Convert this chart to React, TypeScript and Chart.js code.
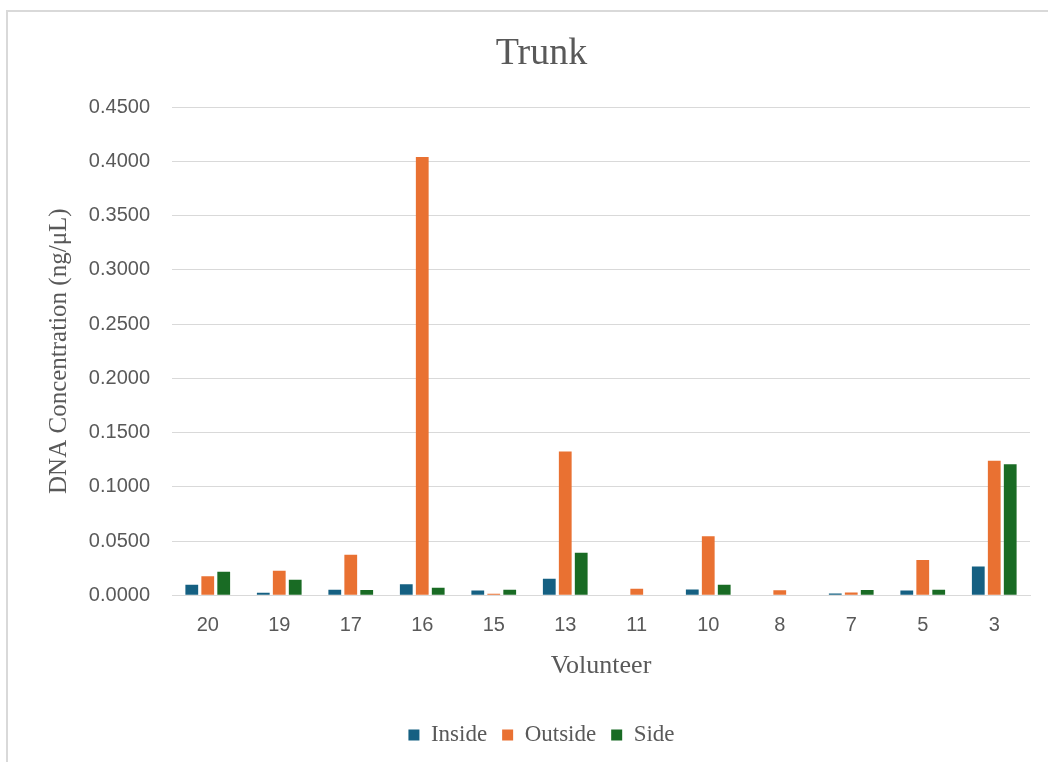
import React, { useEffect, useRef } from "react";
import { Chart, registerables } from "chart.js";

Chart.register(...registerables);

// Volunteers in the order they appear along the x axis
const volunteers = ["20", "19", "17", "16", "15", "13", "11", "10", "8", "7", "5", "3"];

// DNA concentration (ng/µL) per sampling location on the trunk
const insideValues = [0.0097, 0.0023, 0.0051, 0.0102, 0.0045, 0.0152, 0, 0.0053, 0, 0.0017, 0.0045, 0.0265];
const outsideValues = [0.0176, 0.0226, 0.0373, 0.404, 0.0015, 0.1325, 0.006, 0.0544, 0.0046, 0.0025, 0.0325, 0.1239];
const sideValues = [0.0217, 0.0143, 0.0048, 0.0069, 0.0052, 0.0392, 0, 0.0097, 0, 0.0049, 0.0051, 0.1208];

const seriesNames = ["Inside", "Outside", "Side"];
const seriesColors = ["#156082", "#E97132", "#196B24"];

const TEXT = "#595959";
const GRID = "#d9d9d9";
const SERIF = "'Liberation Serif', 'Times New Roman', serif";
const SANS = "'Liberation Sans', Arial, sans-serif";

export default function App() {
  const canvasRef = useRef<HTMLCanvasElement | null>(null);

  useEffect(() => {
    const canvas = canvasRef.current;
    if (!canvas) return;
    const values = [insideValues, outsideValues, sideValues];
    const chart = new Chart(canvas, {
      type: "bar",
      data: {
        labels: volunteers,
        datasets: seriesNames.map((name, i) => ({
          label: name,
          data: values[i],
          backgroundColor: seriesColors[i],
          borderWidth: 0,
          categoryPercentage: 0.67,
          barPercentage: 0.8,
        })),
      },
      options: {
        responsive: false,
        animation: false,
        devicePixelRatio: 1,
        layout: { padding: { top: 12, left: 53, right: 18, bottom: 5.5 } },
        plugins: {
          title: {
            display: true,
            text: "Trunk",
            color: TEXT,
            font: { family: SERIF, size: 38, weight: "normal" },
            padding: { top: 19.2, bottom: 30.2 },
          },
          legend: {
            position: "bottom",
            labels: {
              color: TEXT,
              font: { family: SERIF, size: 23 },
              boxWidth: 11,
              boxHeight: 11,
              padding: 15,
            },
          },
          tooltip: { enabled: false },
        },
        scales: {
          x: {
            grid: { display: false },
            border: { display: true, color: GRID, width: 1 },
            ticks: {
              color: TEXT,
              font: { family: SANS, size: 20 },
              padding: 10,
              maxRotation: 0,
            },
            title: {
              display: true,
              text: "Volunteer",
              color: TEXT,
              font: { family: SERIF, size: 26 },
              padding: { top: 3, bottom: 27 },
            },
          },
          y: {
            min: 0,
            max: 0.45,
            afterFit: (scale: any) => {
              scale.width = 119;
            },
            grid: { color: GRID, lineWidth: 1, drawTicks: false },
            border: { display: false },
            ticks: {
              stepSize: 0.05,
              color: TEXT,
              font: { family: SANS, size: 20 },
              padding: 22,
              callback: (v: any) => Number(v).toFixed(4),
            },
            title: {
              display: true,
              text: "DNA Concentration (ng/μL)",
              color: TEXT,
              font: { family: SERIF, size: 25 },
              padding: { top: -9, bottom: 0 },
            },
          },
        },
      },
    });
    return () => chart.destroy();
  }, []);

  return (
    <div
      style={{
        position: "fixed",
        left: 0,
        top: 0,
        width: 1048,
        height: 762,
        overflow: "hidden",
        background: "#ffffff",
      }}
    >
      <div
        style={{
          position: "absolute",
          left: 6,
          top: 10,
          width: 1100,
          height: 800,
          border: `2px solid ${GRID}`,
          boxSizing: "border-box",
        }}
      />
      <canvas
        ref={canvasRef}
        width={1048}
        height={762}
        style={{ position: "absolute", left: 0, top: 0, width: 1048, height: 762 }}
      />
    </div>
  );
}
